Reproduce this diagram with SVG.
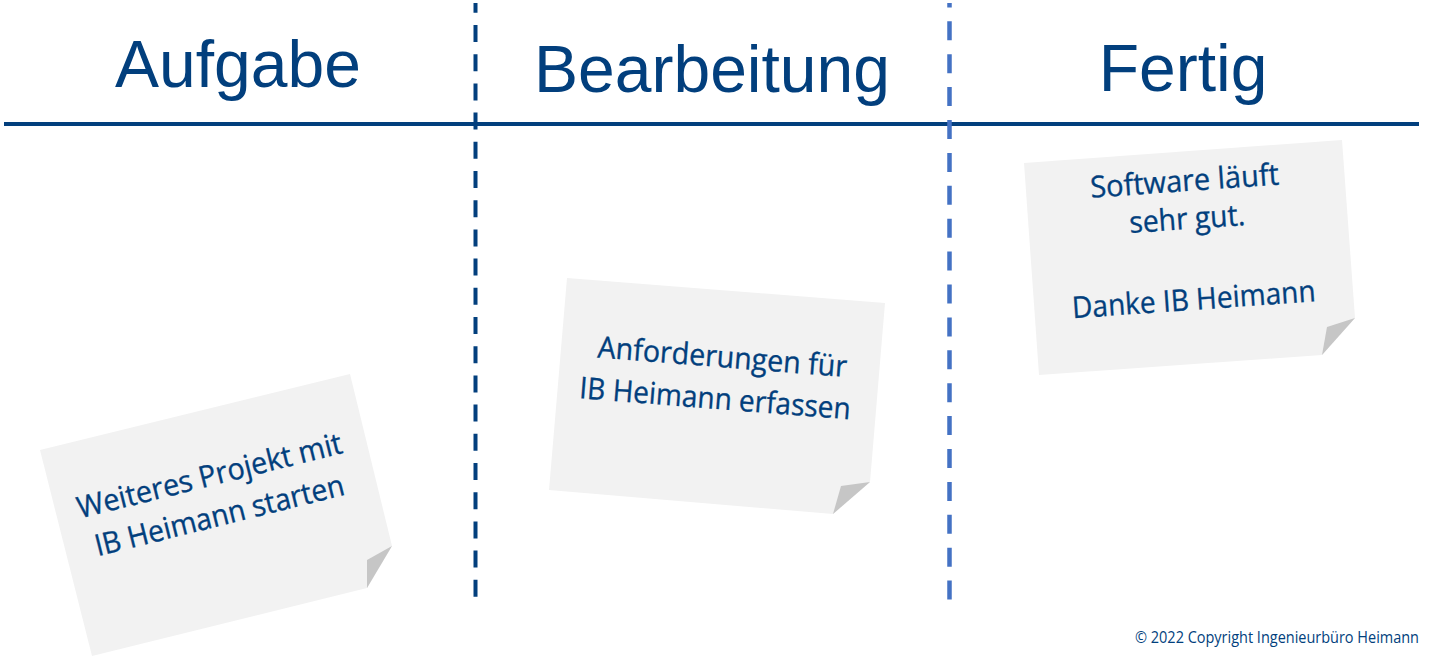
<svg xmlns="http://www.w3.org/2000/svg" width="1436" height="658" viewBox="0 0 1436 658">
<style>
.hdr{font-family:"Liberation Sans",Arial,sans-serif;font-size:66px;fill:#023f7d;text-anchor:middle}
.nt{font-family:"Open Sans","Noto Sans",sans-serif;font-size:30px;fill:#023f7d;stroke:#023f7d;stroke-width:0.35;text-anchor:middle}
.paper{fill:#f2f2f2}
.fold{fill:#c6c6c6}
.copy{font-family:"Open Sans","Noto Sans",sans-serif;font-size:16px;fill:#023f7d}
</style>
<rect width="1436" height="658" fill="#ffffff"/>
<g id="board">
<line x1="4" y1="124" x2="1419" y2="124" stroke="#023f7d" stroke-width="4"/>
<line x1="475.5" y1="3" x2="475.5" y2="600" stroke="#023f7d" stroke-width="4" stroke-dasharray="17 12.2" stroke-dashoffset="7.2"/>
<line x1="949.5" y1="3" x2="949.5" y2="600" stroke="#4472c4" stroke-width="4.5" stroke-dasharray="19 13.9" stroke-dashoffset="14.6"/>
</g>
<g id="header-aufgabe"><text class="hdr" x="238" y="87">Aufgabe</text></g>
<g id="header-bearbeitung"><text class="hdr" x="712" y="92">Bearbeitung</text></g>
<g id="header-fertig"><text class="hdr" x="1183" y="91">Fertig</text></g>
<g id="note-aufgabe">
<polygon class="paper" points="40,450 350,374 392,546 367,588 92,656"/>
<polygon class="fold" points="392,546 367,560 367,588"/>
<g transform="rotate(-14 217 506)">
<text class="nt" x="217" y="485" textLength="272" lengthAdjust="spacingAndGlyphs">Weiteres Projekt mit</text>
<text class="nt" x="217" y="526" textLength="256" lengthAdjust="spacingAndGlyphs">IB Heimann starten</text>
</g>
</g>
<g id="note-bearbeitung">
<polygon class="paper" points="567,278 885,303 870,482 833,514 549,490"/>
<polygon class="fold" points="870,482 841,486 833,514"/>
<g transform="rotate(4.5 718 388)">
<text class="nt" x="720" y="367" textLength="250" lengthAdjust="spacingAndGlyphs">Anforderungen für</text>
<text class="nt" x="716" y="409" textLength="272" lengthAdjust="spacingAndGlyphs">IB Heimann erfassen</text>
</g>
</g>
<g id="note-fertig">
<polygon class="paper" points="1024,163 1342,140 1355,318 1322,355 1039,375"/>
<polygon class="fold" points="1355,318 1327,327 1322,355"/>
<g transform="rotate(-4 1190 260)">
<text class="nt" x="1190" y="191" textLength="189" lengthAdjust="spacingAndGlyphs">Software läuft</text>
<text class="nt" x="1190" y="229" textLength="116" lengthAdjust="spacingAndGlyphs">sehr gut.</text>
<text class="nt" x="1191" y="310" textLength="244" lengthAdjust="spacingAndGlyphs">Danke IB Heimann</text>
</g>
</g>
<g id="copyright"><text class="copy" x="1135" y="643" textLength="284" lengthAdjust="spacingAndGlyphs">© 2022 Copyright Ingenieurbüro Heimann</text></g>
</svg>
